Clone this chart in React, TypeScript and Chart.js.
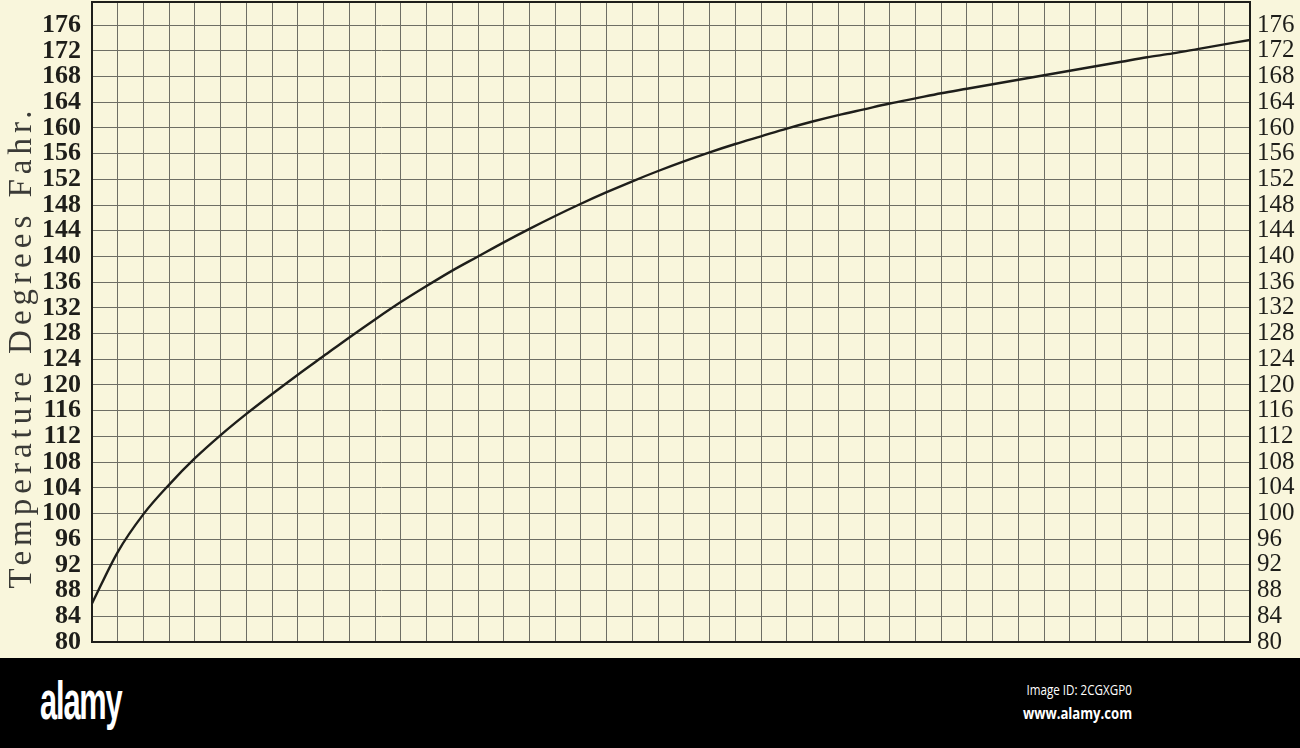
import React, { useEffect, useRef } from "react";
import { Chart, registerables } from "chart.js";

Chart.register(...registerables);

// Horizontal divisions (45 squares across the sheet)
const X_VALUES = [
  0, 1, 2, 3, 4, 5, 6, 7, 8, 9, 10, 11, 12, 13, 14, 15, 16, 17, 18, 19, 20, 21, 22,
  23, 24, 25, 26, 27, 28, 29, 30, 31, 32, 33, 34, 35, 36, 37, 38, 39, 40, 41, 42, 43,
  44, 45,
];

// Temperature (degrees Fahrenheit) at each division
const TEMPERATURES = [
  86.0, 94.0, 99.9, 104.5, 108.6, 112.2, 115.5, 118.6, 121.6, 124.5, 127.4, 130.2,
  132.9, 135.4, 137.8, 140.0, 142.2, 144.3, 146.3, 148.2, 150.0, 151.7, 153.3, 154.8,
  156.2, 157.5, 158.7, 159.9, 161.0, 162.0, 162.9, 163.8, 164.6, 165.4, 166.1, 166.8,
  167.5, 168.2, 168.9, 169.6, 170.3, 171.0, 171.6, 172.3, 173.0, 173.7,
];

const Y_TICKS = [
  80, 84, 88, 92, 96, 100, 104, 108, 112, 116, 120, 124, 128, 132, 136, 140, 144, 148,
  152, 156, 160, 164, 168, 172, 176,
];

const Y_TITLE = "Temperature Degrees Fahr.";

const PAPER = "#f9f6dc";
const INK = "#1e1e1a";
const GRID = "#6e6e64";

function noPadding(scale: any) {
  scale.paddingTop = 0;
  scale.paddingBottom = 0;
  scale.paddingLeft = 0;
  scale.paddingRight = 0;
}

export default function App() {
  const canvasRef = useRef<HTMLCanvasElement | null>(null);

  useEffect(() => {
    const canvas = canvasRef.current;
    if (!canvas) return;

    const sheetPlugin = {
      id: "sheet",
      beforeDraw(chart: any) {
        const ctx = chart.ctx;
        ctx.save();
        ctx.fillStyle = PAPER;
        ctx.fillRect(0, 0, chart.width, chart.height);
        ctx.restore();
      },
      afterDraw(chart: any) {
        const ctx = chart.ctx;
        const a = chart.chartArea;
        ctx.save();
        ctx.strokeStyle = INK;
        ctx.lineWidth = 2;
        ctx.strokeRect(a.left, a.top, a.right - a.left, a.bottom - a.top);
        ctx.translate(22, 347);
        ctx.rotate(-Math.PI / 2);
        ctx.fillStyle = "#3a3a36";
        ctx.font = "33px 'Liberation Serif', 'DejaVu Serif', serif";
        (ctx as any).letterSpacing = "5px";
        ctx.textAlign = "center";
        ctx.textBaseline = "middle";
        ctx.fillText(Y_TITLE, 0, 0);
        ctx.restore();
      },
    };

    const chart = new Chart(canvas, {
      type: "line",
      data: {
        datasets: [
          {
            label: "Temperature",
            data: X_VALUES.map((x, i) => ({ x, y: TEMPERATURES[i] })),
            borderColor: INK,
            borderWidth: 2.4,
            pointRadius: 0,
            cubicInterpolationMode: "monotone",
            fill: false,
          },
        ],
      },
      options: {
        responsive: false,
        animation: false,
        devicePixelRatio: 1,
        layout: { padding: { top: 2, bottom: 0, left: 0, right: 0 } },
        plugins: {
          legend: { display: false },
          tooltip: { enabled: false },
          title: { display: false },
        },
        scales: {
          x: {
            type: "linear",
            min: 0,
            max: 45,
            ticks: { stepSize: 1, display: false, autoSkip: false, maxTicksLimit: 100 },
            grid: { color: GRID, lineWidth: 1, drawTicks: false },
            border: { display: false },
            afterFit(scale: any) {
              scale.height = 16;
              noPadding(scale);
            },
          },
          y: {
            type: "linear",
            position: "left",
            min: 80,
            max: 179.6,
            afterBuildTicks(scale: any) {
              scale.ticks = Y_TICKS.map((v) => ({ value: v }));
            },
            ticks: {
              autoSkip: false,
              padding: 11,
              color: INK,
              font: { family: "'Liberation Serif', serif", size: 26, weight: "bold" },
            },
            grid: { color: GRID, lineWidth: 1, drawTicks: false },
            border: { display: false },
            afterFit(scale: any) {
              scale.width = 92;
              noPadding(scale);
            },
          },
          y2: {
            type: "linear",
            position: "right",
            min: 80,
            max: 179.6,
            afterBuildTicks(scale: any) {
              scale.ticks = Y_TICKS.map((v) => ({ value: v }));
            },
            ticks: {
              autoSkip: false,
              padding: 7,
              color: INK,
              font: { family: "'Liberation Serif', serif", size: 25 },
            },
            grid: { display: false, drawTicks: false },
            border: { display: false },
            afterFit(scale: any) {
              scale.width = 50;
              noPadding(scale);
            },
          },
        },
      },
      plugins: [sheetPlugin],
    } as any);

    return () => {
      chart.destroy();
    };
  }, []);

  return (
    <div
      style={{
        position: "fixed",
        left: 0,
        top: 0,
        width: 1300,
        height: 748,
        background: PAPER,
        overflow: "hidden",
      }}
    >
      <canvas ref={canvasRef} width={1300} height={658} style={{ display: "block" }} />
      <div
        style={{
          position: "absolute",
          left: 0,
          top: 658,
          width: 1300,
          height: 90,
          background: "#000",
          color: "#fff",
        }}
      >
        <div
          style={{
            position: "absolute",
            left: 40,
            top: 11,
            fontFamily: "'Liberation Sans Narrow', 'Liberation Sans', sans-serif",
            fontWeight: "bold",
            fontSize: 54,
            lineHeight: "62px",
            letterSpacing: -2,
            transform: "scaleX(0.57)",
            transformOrigin: "left top",
          }}
        >
          alamy
        </div>
        <div
          style={{
            position: "absolute",
            right: 168,
            top: 23,
            fontFamily: "'Open Sans', sans-serif",
            fontSize: 14,
            lineHeight: "18px",
            textAlign: "right",
            whiteSpace: "nowrap",
            transform: "scaleX(0.83)",
            transformOrigin: "right top",
          }}
        >
          Image ID: 2CGXGP0
        </div>
        <div
          style={{
            position: "absolute",
            right: 168,
            top: 45,
            fontFamily: "'Open Sans', sans-serif",
            fontWeight: "bold",
            fontSize: 16,
            lineHeight: "20px",
            textAlign: "right",
            whiteSpace: "nowrap",
            transform: "scaleX(0.82)",
            transformOrigin: "right top",
          }}
        >
          www.alamy.com
        </div>
      </div>
    </div>
  );
}
